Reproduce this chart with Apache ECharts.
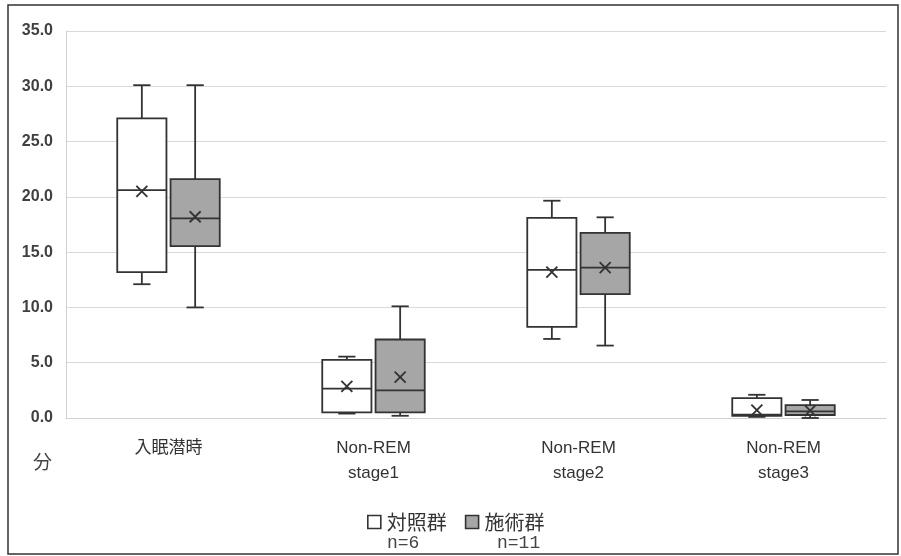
<!DOCTYPE html>
<html><head><meta charset="utf-8">
<script src="https://cdn.jsdelivr.net/npm/echarts@6/dist/echarts.min.js"></script>
<style>html,body{margin:0;padding:0;background:#fff}#c{width:901px;height:556px}</style>
</head><body><div id="c"></div>
<script>
const categories = ['入眠潜時', 'Non-REM\nstage1', 'Non-REM\nstage2', 'Non-REM\nstage3'];
const yTicks = [0, 5, 10, 15, 20, 25, 30, 35];
// [min, Q1, median, Q3, max]
const controlBox = [[12.1, 13.2, 20.6, 27.1, 30.1], [0.4, 0.5, 2.65, 5.25, 5.55], [7.15, 8.25, 13.4, 18.1, 19.65], [0.1, 0.2, 0.3, 1.8, 2.1]];
const treatBox = [[10.0, 15.55, 18.05, 21.6, 30.1], [0.2, 0.5, 2.5, 7.1, 10.1], [6.55, 11.2, 13.6, 16.75, 18.15], [0.0, 0.27, 0.6, 1.17, 1.63]];
const controlMean = [20.5, 2.85, 13.2, 0.72];
const treatMean = [18.2, 3.7, 13.6, 0.66];
const legendNames = ['対照群', '施術群'];
const sampleSizes = ['n=6', 'n=11'];

const stroke = '#333';
const fills = ['#ffffff', '#a6a6a6'];

function makeRender(side, fill) {
  return function (params, api) {
    const ci = api.value(0);
    const band = api.size([1, 0])[0];
    const cx = api.coord([ci, 0])[0] + side * band * 0.13;
    const hw = band * 0.12;
    const cap = band * 0.042;
    const y = k => api.coord([ci, api.value(k)])[1];
    const ymin = y(1), yq1 = y(2), ymed = y(3), yq3 = y(4), ymax = y(5), ymean = y(6);
    const ls = { stroke: stroke, lineWidth: 1.8 };
    const m = 5.5;
    return {
      type: 'group',
      children: [
        { type: 'line', shape: { x1: cx, y1: ymax, x2: cx, y2: yq3 }, style: ls },
        { type: 'line', shape: { x1: cx, y1: yq1, x2: cx, y2: ymin }, style: ls },
        { type: 'line', shape: { x1: cx - cap, y1: ymax, x2: cx + cap, y2: ymax }, style: ls },
        { type: 'line', shape: { x1: cx - cap, y1: ymin, x2: cx + cap, y2: ymin }, style: ls },
        { type: 'rect', shape: { x: cx - hw, y: yq3, width: 2 * hw, height: yq1 - yq3 }, style: { fill: fill, stroke: stroke, lineWidth: 1.8 } },
        { type: 'line', shape: { x1: cx - hw, y1: ymed, x2: cx + hw, y2: ymed }, style: ls },
        { type: 'line', shape: { x1: cx - m, y1: ymean - m, x2: cx + m, y2: ymean + m }, style: { stroke: '#333', lineWidth: 1.8 } },
        { type: 'line', shape: { x1: cx - m, y1: ymean + m, x2: cx + m, y2: ymean - m }, style: { stroke: '#333', lineWidth: 1.8 } }
      ]
    };
  };
}

const controlData = controlBox.map((d, i) => [i, ...d, controlMean[i]]);
const treatData = treatBox.map((d, i) => [i, ...d, treatMean[i]]);

const chart = echarts.init(document.getElementById('c'));
chart.setOption({
  animation: false,
  grid: { left: 66, right: 15, top: 31, bottom: 138 },
  xAxis: {
    type: 'category', data: categories,
    axisLine: { lineStyle: { color: '#d0d0d0', width: 1 } },
    axisTick: { show: false },
    axisLabel: { color: '#333', fontSize: 17, lineHeight: 25, margin: 18, fontFamily: 'Liberation Sans, Noto Sans CJK JP, sans-serif', interval: 0 }
  },
  yAxis: {
    type: 'value', min: yTicks[0], max: yTicks[yTicks.length - 1], interval: 5,
    axisLine: { show: true, lineStyle: { color: '#d0d0d0', width: 1 } },
    axisTick: { show: false },
    splitLine: { lineStyle: { color: '#d9d9d9', width: 1 } },
    axisLabel: { color: '#404040', fontSize: 16, fontWeight: 'bold', margin: 13, fontFamily: 'Liberation Sans, sans-serif', formatter: v => v.toFixed(1) }
  },
  legend: {
    left: 362, top: 507, itemWidth: 13, itemHeight: 13, itemGap: 18,
    textStyle: { color: '#333', fontSize: 20, padding: [0, 0, 0, 1], fontFamily: 'Noto Sans CJK JP, sans-serif' },
    data: [
      { name: legendNames[0], icon: 'rect', itemStyle: { color: fills[0], borderColor: stroke, borderWidth: 1.6 } },
      { name: legendNames[1], icon: 'rect', itemStyle: { color: fills[1], borderColor: stroke, borderWidth: 1.6 } }
    ]
  },
  series: [
    { name: legendNames[0], type: 'custom', renderItem: makeRender(-1, fills[0]), encode: { x: 0, y: [1, 2, 3, 4, 5, 6] }, itemStyle: { color: fills[0], borderColor: stroke }, data: controlData },
    { name: legendNames[1], type: 'custom', renderItem: makeRender(1, fills[1]), encode: { x: 0, y: [1, 2, 3, 4, 5, 6] }, itemStyle: { color: fills[1], borderColor: stroke }, data: treatData }
  ],
  graphic: [
    { type: 'rect', shape: { x: 8, y: 5, width: 890, height: 549 }, style: { fill: 'none', stroke: '#333', lineWidth: 1.5 }, silent: true },
    { type: 'text', left: 33, top: 452, style: { text: '分', fill: '#444', fontSize: 19, fontFamily: 'Noto Sans CJK JP, sans-serif' } },
    { type: 'text', left: 387, top: 534, style: { text: sampleSizes[0], fill: '#444', fontSize: 18, fontFamily: 'Liberation Mono, monospace' } },
    { type: 'text', left: 497, top: 534, style: { text: sampleSizes[1], fill: '#444', fontSize: 18, fontFamily: 'Liberation Mono, monospace' } }
  ]
});
</script></body></html>
